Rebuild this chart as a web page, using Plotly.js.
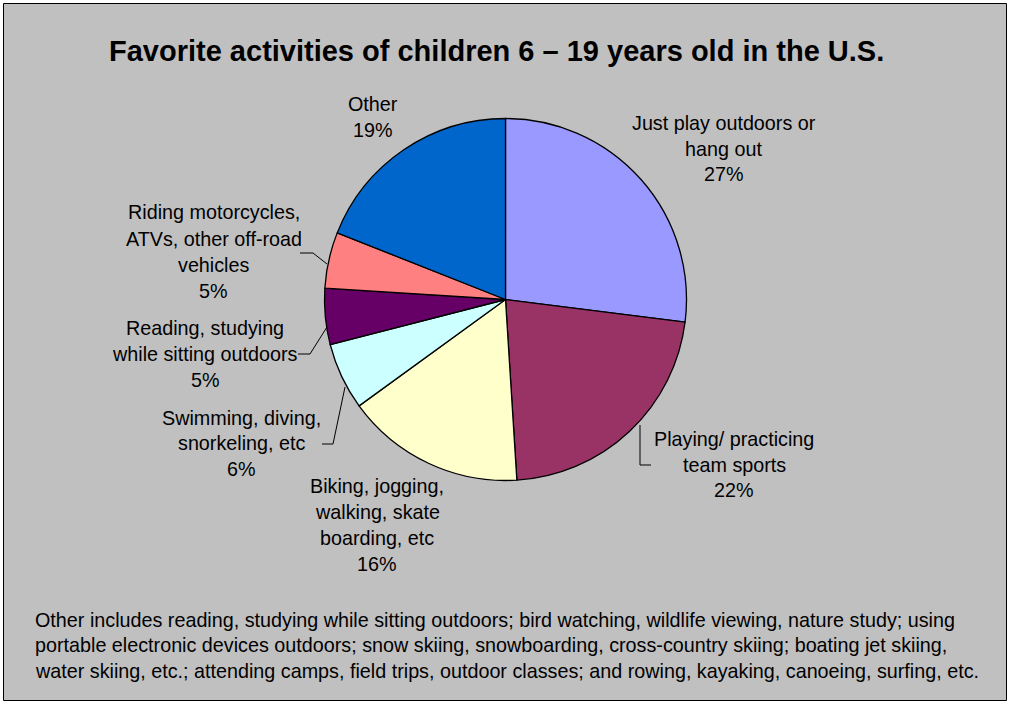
<!DOCTYPE html>
<html>
<head>
<meta charset="utf-8">
<script src="https://cdn.plot.ly/plotly-3.0.1.min.js"></script>
<style>
  html, body { margin: 0; padding: 0; background: #ffffff; }
  #chart { width: 1010px; height: 705px; }
</style>
</head>
<body>
<div id="chart"></div>
<script>
// ---- data ----
var categories = [
  "Just play outdoors or<br>hang out",
  "Playing/ practicing<br>team sports",
  "Biking, jogging,<br>walking, skate<br>boarding, etc",
  "Swimming, diving,<br>snorkeling, etc",
  "Reading, studying<br>while sitting outdoors",
  "Riding motorcycles,<br>ATVs, other off-road<br>vehicles",
  "Other"
];
var shares = [27, 22, 16, 6, 5, 5, 19];
var sliceColors = ["#9999FF", "#993366", "#FFFFCC", "#CCFFFF", "#660066", "#FF8080", "#0066CC"];
var chartTitle = "Favorite activities of children 6 \u2013 19 years old in the U.S.";
var footnoteLines = [
  "Other includes reading, studying while sitting outdoors; bird watching, wildlife viewing, nature study; using",
  "portable electronic devices outdoors; snow skiing, snowboarding, cross-country skiing; boating jet skiing,",
  "water skiing, etc.; attending camps, field trips, outdoor classes; and rowing, kayaking, canoeing, surfing, etc."
];

// ---- layout helpers (pixel positions) ----
var W = 1010, H = 705;
var FONT = "Liberation Sans, Arial, Helvetica, sans-serif";
var TXT = 19.75;
function px(x) { return x / W; }
function py(y) { return 1 - y / H; }

var cx = 505.5, cy = 299.5, R = 181;

// label anchor: center x, first line y, line spacing
var labelPos = [
  [723.5, 123, 25.5],
  [734, 439.5, 25.5],
  [377, 485.5, 26],
  [241.5, 417.5, 25.5],
  [205, 328.5, 25.8],
  [213.7, 212.5, 26.2],
  [373.3, 104, 26]
];
var leaderLines = [
  null,
  [[640, 425], [640, 465], [651, 465]],
  null,
  [[322, 444], [333, 444], [345, 387]],
  [[298, 354], [310, 354], [327, 327]],
  [[300, 253], [313, 253], [327, 264]],
  null
];

var total = shares.reduce(function (a, b) { return a + b; }, 0);

var annotations = [];
annotations.push({
  text: "<b>" + chartTitle + "</b>",
  xref: "paper", yref: "paper", x: px(496), y: py(51),
  xanchor: "center", yanchor: "middle", showarrow: false,
  font: { family: FONT, size: 29, color: "#000000" }
});

categories.forEach(function (c, i) {
  var lines = c.split("<br>");
  lines.push(Math.round(shares[i] / total * 100) + "%");
  var p = labelPos[i];
  lines.forEach(function (t, k) {
    annotations.push({
      text: t, xref: "paper", yref: "paper",
      x: px(p[0]), y: py(p[1] + k * p[2]),
      xanchor: "center", yanchor: "middle", showarrow: false,
      font: { family: FONT, size: TXT, color: "#000000" }
    });
  });
});

footnoteLines.forEach(function (t, k) {
  annotations.push({
    text: t, xref: "paper", yref: "paper",
    x: px(33), y: py(619.5 + k * 25.8),
    xanchor: "left", yanchor: "middle", showarrow: false,
    font: { family: FONT, size: TXT, color: "#000000" }
  });
});

var shapes = [{
  type: "rect", xref: "paper", yref: "paper",
  x0: px(3.5), x1: px(1006.5), y0: py(3.5), y1: py(700.5),
  fillcolor: "#C0C0C0", line: { color: "#000000", width: 1 }, layer: "below"
}];
leaderLines.forEach(function (pts) {
  if (!pts) return;
  var d = pts.map(function (p, j) {
    return (j === 0 ? "M " : "L ") + px(p[0]) + " " + py(p[1]);
  }).join(" ");
  shapes.push({
    type: "path", xref: "paper", yref: "paper", path: d,
    line: { color: "#000000", width: 1 }, layer: "above"
  });
});

var trace = {
  type: "pie",
  labels: categories,
  values: shares,
  sort: false,
  direction: "clockwise",
  rotation: 0,
  textinfo: "none",
  hoverinfo: "skip",
  showlegend: false,
  marker: { colors: sliceColors, line: { color: "#000000", width: 1.3 } },
  domain: {
    x: [px(cx - R), px(cx + R)],
    y: [py(cy + R), py(cy - R)]
  }
};

var layout = {
  width: W, height: H,
  margin: { l: 0, r: 0, t: 0, b: 0, pad: 0 },
  paper_bgcolor: "#ffffff",
  plot_bgcolor: "rgba(0,0,0,0)",
  showlegend: false,
  annotations: annotations,
  shapes: shapes
};

Plotly.newPlot("chart", [trace], layout, { staticPlot: true, displayModeBar: false });
</script>
</body>
</html>
